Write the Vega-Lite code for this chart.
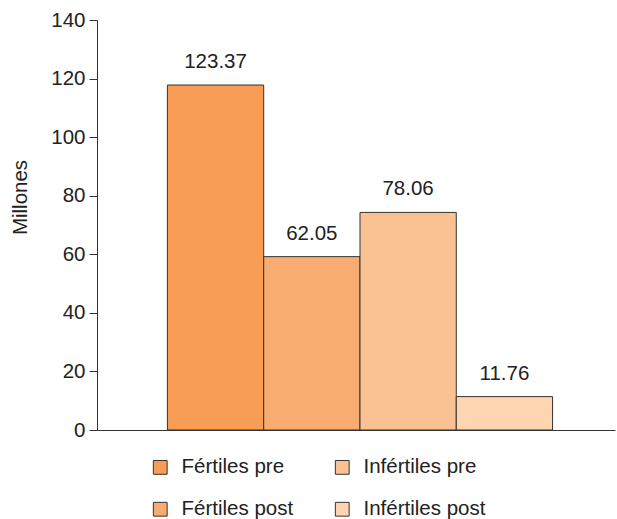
{
  "$schema": "https://vega.github.io/schema/vega-lite/v6.json",
  "autosize": "none",
  "width": 518,
  "height": 410,
  "padding": {"left": 97, "top": 20, "right": 2, "bottom": 89},
  "background": "white",
  "config": {
    "view": {"stroke": null},
    "font": "Liberation Sans"
  },
  "data": {
    "values": [
      {"grupo": "Fértiles pre", "valor": 117.8, "etiqueta": "123.37"},
      {"grupo": "Fértiles post", "valor": 59.2, "etiqueta": "62.05"},
      {"grupo": "Infértiles pre", "valor": 74.3, "etiqueta": "78.06"},
      {"grupo": "Infértiles post", "valor": 11.4, "etiqueta": "11.76"}
    ]
  },
  "encoding": {
    "x": {
      "field": "grupo",
      "type": "nominal",
      "sort": ["Fértiles pre", "Fértiles post", "Infértiles pre", "Infértiles post"],
      "scale": {"paddingInner": 0, "paddingOuter": 0.69, "align": 0.53},
      "axis": {"labels": false, "ticks": false, "title": null, "domainColor": "#333", "domainWidth": 1}
    },
    "y": {
      "field": "valor",
      "type": "quantitative",
      "scale": {"domain": [0, 140], "nice": false},
      "axis": {
        "title": "Millones",
        "values": [0, 20, 40, 60, 80, 100, 120, 140],
        "grid": false,
        "domainColor": "#333",
        "tickColor": "#333",
        "tickSize": 8,
        "labelFontSize": 20.5,
        "labelColor": "#222",
        "labelPadding": 4,
        "titleFontSize": 20.5,
        "titleFontWeight": "normal",
        "titleColor": "#222",
        "titlePadding": 20,
        "titleY": 177
      }
    }
  },
  "layer": [
    {
      "mark": {"type": "bar", "stroke": "#333", "strokeWidth": 1},
      "encoding": {
        "color": {
          "field": "grupo",
          "type": "nominal",
          "scale": {
            "domain": ["Fértiles pre", "Fértiles post", "Infértiles pre", "Infértiles post"],
            "range": ["#F79D56", "#F8AC72", "#FAC293", "#FDD5B1"]
          },
          "legend": {
            "title": null,
            "orient": "none",
            "legendX": 53,
            "legendY": 437,
            "columns": 2,
            "symbolType": "square",
            "symbolSize": 190,
            "symbolStrokeColor": "#333",
            "symbolStrokeWidth": 1,
            "labelFontSize": 20.5,
            "labelColor": "#222",
            "labelOffset": 11,
            "rowPadding": 21,
            "columnPadding": 38,
            "labelLimit": 250
          }
        }
      }
    },
    {
      "mark": {"type": "text", "fontSize": 20.5, "color": "#222", "baseline": "middle", "dy": -23},
      "encoding": {"text": {"field": "etiqueta"}}
    }
  ]
}
